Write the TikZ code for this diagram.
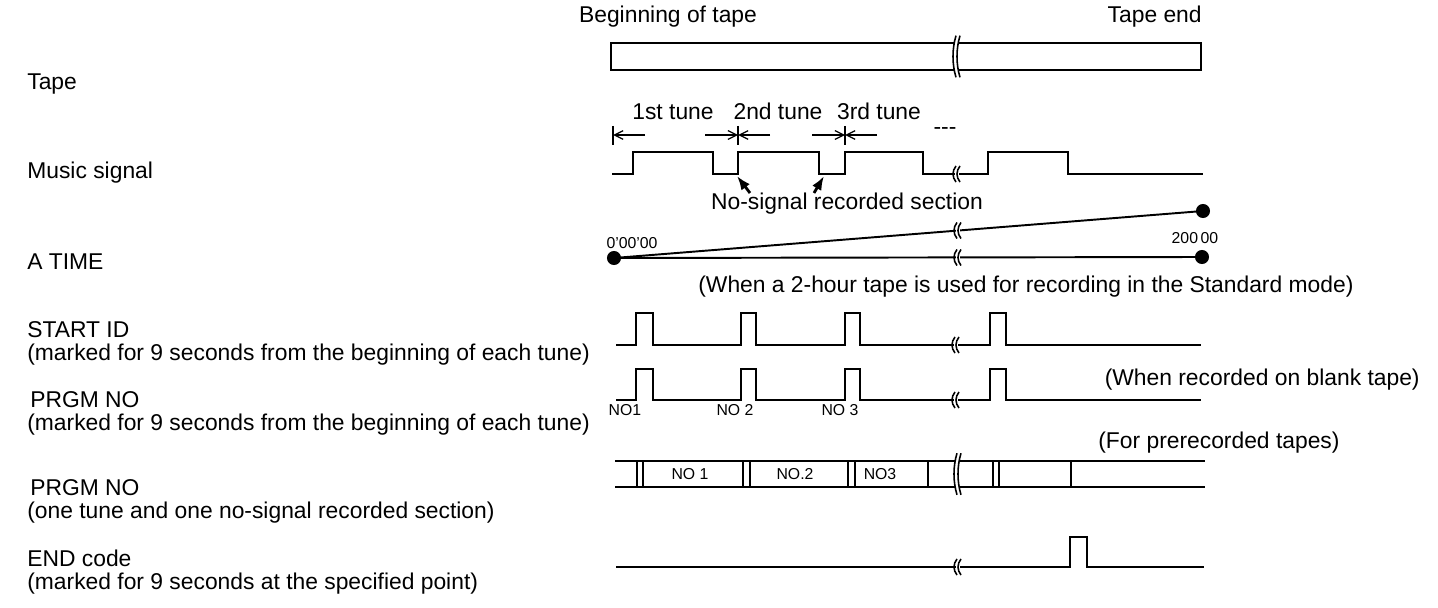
\documentclass[tikz,border=0pt]{standalone}
\usepackage{fontspec}
\setmainfont{Liberation Sans}
\usetikzlibrary{arrows.meta}

\begin{document}
\begin{tikzpicture}[
  x=0.02cm, y=-0.02cm, font=\fontsize{13}{15}\selectfont,
  lbl/.style     ={anchor=base west, inner sep=0pt},
  sig/.style     ={line width=1.1pt, line join=miter},
  sep/.style     ={line width=0.7pt},
  smalltxt/.style={inner sep=0pt, font=\fontsize{9}{10}\selectfont},
  tunetxt/.style ={anchor=base, inner sep=0pt},
  tunearr/.style ={-{Straight Barb[length=5pt,width=5pt]}, line width=0.7pt},
  ptr/.style     ={-{Latex[length=8pt,width=6pt]}, line width=1.6pt},
  tdot/.style    ={circle, fill, inner sep=0pt, minimum size=8pt},
  brk/.pic={
    \fill[white] (-2,-8) rectangle (2,8);
    \draw[line width=0.9pt] (-1,-8) .. controls (-5,-3) and (-5,3) .. (-1,8);
    \draw[line width=0.9pt] (3,-8) .. controls (-1,-3) and (-1,3) .. (3,8);}]
  \useasboundingbox (0,0) rectangle (1438,608);
  % left labels
  \node[lbl] (ltape)   at (27,90)  {Tape};
  \node[lbl] (lmusic)  at (27,178) {Music signal};
  \node[lbl] (latime)  at (27,270) {A TIME};
  \node[lbl] (lstart)  at (27,337) {START ID};
  \node[lbl] (lstartn) at (27,360) {(marked for 9 seconds from the beginning of each tune)};
  \node[lbl] (lprgm)   at (30,407) {PRGM NO};
  \node[lbl] (lprgmn)  at (27,430) {(marked for 9 seconds from the beginning of each tune)};
  \node[lbl] (lprgmb)  at (30,495) {PRGM NO};
  \node[lbl] (lprgmbn) at (27,518) {(one tune and one no-signal recorded section)};
  \node[lbl] (lend)    at (27,566) {END code};
  \node[lbl] (lendn)   at (27,589) {(marked for 9 seconds at the specified point)};
  % tape
  \node (tbeg) at (668,17) {Beginning of tape};
  \node[anchor=east, inner sep=0pt] (tend) at (1202,17) {Tape end};
  \draw[line width=1pt] (611,43) rectangle (1201,70);
  \path (957,56.5) pic[yscale=2.6] {brk};
  % tunes
  \node[tunetxt] (tune1) at (673,120) {1st tune};
  \node[tunetxt] (tune2) at (778,120) {2nd tune};
  \node[tunetxt] (tune3) at (879,120) {3rd tune};
  \node (tmore) at (945,131) {-{}-{}-};
  \coordinate (b1) at (613,135); \coordinate (a1) at (645,135);
  \coordinate (b2) at (738,135); \coordinate (a2l) at (705,135); \coordinate (a2r) at (770,135);
  \coordinate (b3) at (845,135); \coordinate (a3l) at (812,135); \coordinate (a3r) at (877,135);
  \draw[sep] (613,126) -- (613,145);
  \draw[sep] (738,126) -- (738,145);
  \draw[sep] (845,126) -- (845,145);
  \draw[tunearr] (a1) -- (b1);
  \draw[tunearr] (a2l) -- (b2); \draw[tunearr] (a2r) -- (b2);
  \draw[tunearr] (a3l) -- (b3); \draw[tunearr] (a3r) -- (b3);
  % music signal
  \draw[sig] (612,174) -- (633,174) -- (633,152) -- (713,152) -- (713,174) -- (738,174)
    -- (738,152) -- (819,152) -- (819,174) -- (845,174) -- (845,152) -- (923,152)
    -- (923,174) -- (988,174) -- (988,152) -- (1068,152) -- (1068,174) -- (1203,174);
  \path (957,174) pic {brk};
  \node (nosig) at (847,204) {No-signal recorded section};
  \coordinate (ns1) at (737,176); \coordinate (ns1t) at (750,193);
  \coordinate (ns2) at (824,176); \coordinate (ns2t) at (814,193);
  \draw[ptr] (ns1t) -- (ns1);
  \draw[ptr] (ns2t) -- (ns2);
  % A TIME
  \node[tdot] (t0) at (614,258) {};
  \node[tdot] (t1) at (1203,211) {};
  \node[tdot] (t2) at (1202,257) {};
  \draw[sig] (t0.center) -- (t1.center);
  \draw[sig] (t0.center) -- (t2.center);
  \path (958,230.5) pic {brk};
  \path (958,257.5) pic {brk};
  \node[smalltxt] (t0lbl) at (632,243) {0'00'00};
  \node[smalltxt] (t1lbl) at (1195,238) {200\,00};
  \node[lbl] (stdmode) at (698,292) {(When a 2-hour tape is used for recording in the Standard mode)};
  % START ID
  \draw[sig] (616,345) -- (636,345) -- (636,313) -- (653,313) -- (653,345) -- (741,345)
    -- (741,313) -- (756,313) -- (756,345) -- (845,345) -- (845,313) -- (860,313)
    -- (860,345) -- (990,345) -- (990,313) -- (1006,313) -- (1006,345) -- (1201,345);
  \path (956,345) pic {brk};
  % PRGM NO (blank tape)
  \draw[sig] (616,400) -- (636,400) -- (636,369) -- (653,369) -- (653,400) -- (741,400)
    -- (741,369) -- (756,369) -- (756,400) -- (845,400) -- (845,369) -- (860,369)
    -- (860,400) -- (990,400) -- (990,369) -- (1006,369) -- (1006,400) -- (1201,400);
  \path (956,400) pic {brk};
  \node[anchor=east, inner sep=0pt] (blank) at (1420,380) {(When recorded on blank tape)};
  \node[smalltxt] (no1) at (625,410) {NO1};
  \node[smalltxt] (no2) at (735,410) {NO 2};
  \node[smalltxt] (no3) at (840,410) {NO 3};
  % PRGM NO (prerecorded)
  \node[lbl] (prerec) at (1098,448) {(For prerecorded tapes)};
  \draw[sig] (615,461) -- (1205,461);
  \draw[sig] (615,487) -- (1205,487);
  \draw[sep] (637,461) -- (637,487); \draw[sep] (643,461) -- (643,487);
  \draw[sep] (743,461) -- (743,487); \draw[sep] (750,461) -- (750,487);
  \draw[sep] (848,461) -- (848,487); \draw[sep] (855,461) -- (855,487);
  \draw[sep] (928,461) -- (928,487);
  \draw[sep] (993,461) -- (993,487); \draw[sep] (999,461) -- (999,487);
  \draw[sep] (1071,461) -- (1071,487);
  \path (958,474) pic[yscale=2.6] {brk};
  \node[smalltxt] (p1) at (690,474) {NO 1};
  \node[smalltxt] (p2) at (795,474) {NO.2};
  \node[smalltxt] (p3) at (880,474) {NO3};
  % END code
  \draw[sig] (616,567) -- (1070,567) -- (1070,537) -- (1087,537) -- (1087,567) -- (1204,567);
  \path (958,567) pic {brk};
\end{tikzpicture}
\end{document}
